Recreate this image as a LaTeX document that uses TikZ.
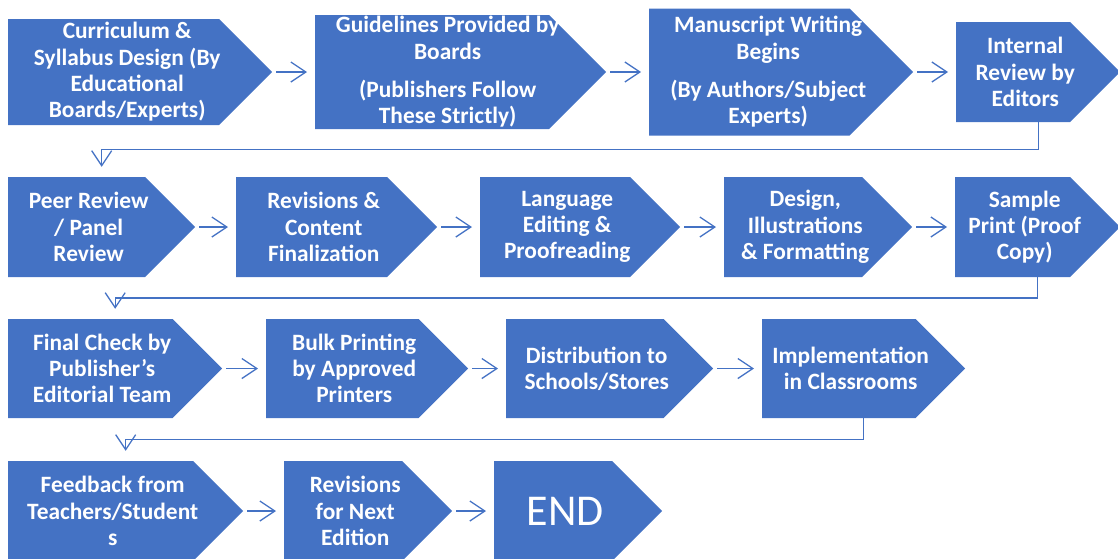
\documentclass[tikz,border=0pt]{standalone}
\usepackage{fontspec}
\setmainfont{Carlito}
\usetikzlibrary{arrows.meta,calc}
\definecolor{stepblue}{HTML}{4472C4}

% home-plate boxes: #1 = full width, #2 = height (both in pt)
\tikzset{
  stepbox/.style 2 args={
    minimum width=#1pt, minimum height=#2pt, text width={(#1-#2/4)*1pt},
    inner sep=0pt, anchor=west, align=flush center, text=white,
    font=\bfseries\fontsize{23.4}{26.3}\selectfont,
    execute at begin node={\leftskip=-13pt plus 1fil\rightskip=13pt plus 1fil},
    path picture={\fill[stepblue]
      let \p1=(path picture bounding box.south west), \p2=(path picture bounding box.north east) in
      (\x1,\y1) -- (\x1,\y2) -- (\x2-0.5*\y2+0.5*\y1,\y2) -- (\x2,0.5*\y1+0.5*\y2)
      -- (\x2-0.5*\y2+0.5*\y1,\y1) -- cycle;}
  },
  link/.style={draw=stepblue, line width=1.3pt, -{Straight Barb[length=15pt,width=20pt]}}
}

\begin{document}
\begin{tikzpicture}[x=1pt, y=-1pt]
  \useasboundingbox (0,0) rectangle (1118,558);

  % row 1
  \node[stepbox={264}{106}] (s1) at (8,72) {Curriculum \&\\Syllabus Design (By\\Educational\\Boards/Experts)};
  \node[stepbox={291}{114}] (s2) at (315,72) {Guidelines Provided by\\Boards\\[12pt](Publishers Follow\\These Strictly)};
  \node[stepbox={264}{127}] (s3) at (649,72) {Manuscript Writing\\Begins\\[12pt](By Authors/Subject\\Experts)};
  \node[stepbox={164}{100}] (s4) at (956,72) {Internal\\Review by\\Editors};

  % row 2
  \node[stepbox={187}{100}] (s5) at (8,227) {Peer Review\\/ Panel\\Review};
  \node[stepbox={201}{100}] (s6) at (236,227) {Revisions \&\\Content\\Finalization};
  \node[stepbox={200}{100}] (s7) at (480,227) {Language\\Editing \&\\Proofreading};
  \node[stepbox={188}{100}] (s8) at (724,227) {Design,\\Illustrations\\\& Formatting};
  \node[stepbox={165}{100}] (s9) at (955,227) {Sample\\Print (Proof\\Copy)};

  % row 3
  \node[stepbox={214}{99}] (s10) at (8,368.5) {Final Check by\\Publisher’s\\Editorial Team};
  \node[stepbox={202}{99}] (s11) at (266,368.5) {Bulk Printing\\by Approved\\Printers};
  \node[stepbox={207}{99}] (s12) at (506,368.5) {Distribution to\\Schools/Stores};
  \node[stepbox={203}{99}] (s13) at (762,368.5) {Implementation\\in Classrooms};

  % row 4
  \node[stepbox={235}{100}] (s14) at (8,511) {Feedback from\\Teachers/Student\\s};
  \node[stepbox={168}{100}] (s15) at (284,511) {Revisions\\for Next\\Edition};
  \node[stepbox={168}{100}, font=\fontsize{44}{50}\selectfont] (s16) at (494,511) {END};

  \path[link, shorten <=4pt, shorten >=8pt]
    (s1) edge (s2) (s2) edge (s3) (s3) edge (s4)
    (s5) edge (s6) (s6) edge (s7) (s7) edge (s8) (s8) edge (s9)
    (s10) edge (s11) (s11) edge (s12) (s12) edge (s13)
    (s14) edge (s15) (s15) edge (s16);

  % wrap to the next row
  \draw[link, shorten >=10pt] (s4.south) |- ($(s4.south)!.5!(s5.north)$) -| (s5.north);
  \draw[link, shorten >=10pt] (s9.south) |- ($(s9.south)!.5!(s10.north)$) -| (s10.north);
  \draw[link, shorten >=10pt] (s13.south) |- ($(s13.south)!.5!(s14.north)$) -| (s14.north);
\end{tikzpicture}
\end{document}
